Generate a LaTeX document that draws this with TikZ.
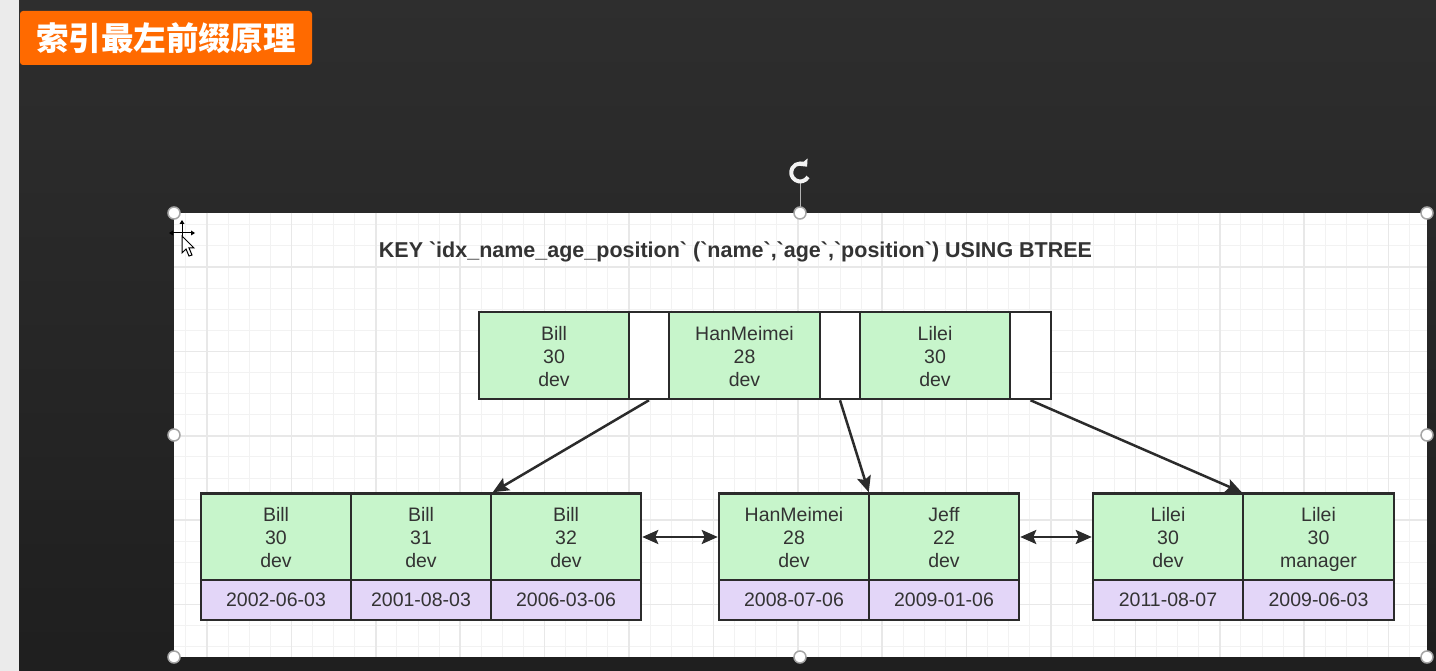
\documentclass[tikz,border=0pt]{standalone}
\usepackage{fontspec}
\setmainfont{Liberation Sans}
\newfontfamily\cjk{Noto Sans CJK SC}
\usetikzlibrary{arrows.meta,calc}
\definecolor{cellgreen}{HTML}{C7F5CB}
\definecolor{cellpurple}{HTML}{E3D6F8}
\definecolor{ink}{HTML}{333333}
\definecolor{edgec}{HTML}{2B2B2B}
\definecolor{tagorange}{HTML}{FF6A00}
\definecolor{gridthin}{HTML}{F2F2F2}
\definecolor{gridthick}{HTML}{E8E8E8}
\newcommand{\bq}{\textasciigrave}
\newcommand{\cl}[3]{\rule{0pt}{15pt}#1\\#2\\\raisebox{0pt}[\height][0pt]{#3}}
\tikzset{
  tip/.tip={Stealth[length=16pt,width=14pt,inset=3pt]},
  cell/.style={draw=edgec, line width=2.5pt, fill=cellgreen, text=ink, align=center,
    font=\fontsize{19.5}{23}\selectfont, inner sep=0pt, minimum height=87pt},
  gapcell/.style={draw=edgec, line width=2.5pt, fill=white, inner sep=0pt, minimum height=87pt, minimum width=40pt},
  datecell/.style={draw=edgec, line width=2.5pt, fill=cellpurple, text=ink,
    font=\fontsize{19.5}{23}\selectfont, inner sep=0pt, minimum height=40pt},
  conn/.style={draw=edgec, line width=2.5pt, -tip},
  dbl/.style={draw=edgec, line width=2.5pt, tip-tip},
  handle/.style={circle, draw=gray!70, fill=white, line width=1.5pt, inner sep=0pt, minimum size=12pt},
}
\begin{document}
\begin{tikzpicture}[x=1pt,y=-1pt]
\useasboundingbox (0,0) rectangle (1436,671);
% background
\shade[top color=black!82, bottom color=black!88] (0,0) rectangle (1436,671);
\fill[black!8] (0,0) rectangle (19,671);
% title tag
\node[fill=tagorange, rounded corners=3pt, minimum width=292pt, minimum height=54pt, inner sep=0pt,
  text=white, font=\cjk\bfseries\fontsize{32.5}{36}\selectfont] (tag) at (166,38) {索引最左前缀原理};
% canvas
\fill[white] (174,213) rectangle (1427,657);
\begin{scope}
\clip (174,213) rectangle (1427,657);
\foreach \i in {0,...,59} {\draw[gridthin, line width=1pt] (185.9+21.1*\i,213) -- (185.9+21.1*\i,657);}
\foreach \j in {0,...,22} {\draw[gridthin, line width=1pt] (174,203.7+21.1*\j) -- (1427,203.7+21.1*\j);}
\foreach \i in {0,...,14} {\draw[gridthick, line width=1.5pt] (207+84.4*\i,213) -- (207+84.4*\i,657);}
\foreach \j in {0,...,5} {\draw[gridthick, line width=1.5pt] (174,267+84.4*\j) -- (1427,267+84.4*\j);}
\end{scope}
% rotation handle
\coordinate (rotc) at (800,172);
\draw[gray!60, line width=1pt] (800,183) -- (800,207);
\draw[gray!10, line width=4pt, -{Triangle[length=6pt,width=11pt]}] (808,177) arc[start angle=30, end angle=320, radius=9];
% selection handles
\foreach \p in {(174,213),(800,213),(1427,213),(174,435),(1427,435),(174,657),(800,657),(1427,657)}
  {\node[handle] at \p {};}
% cursor
\draw[black, line width=1pt] (172,233) -- (192,233) (182,223) -- (182,243);
\fill[black] (169,233) -- (173,230.5) -- (173,235.5) -- cycle;
\fill[black] (195,233) -- (191,230.5) -- (191,235.5) -- cycle;
\fill[black] (182,220) -- (179.5,224) -- (184.5,224) -- cycle;
\draw[black, fill=white, line width=1pt] (182,236) -- (182,253) -- (186,249) -- (189,256) -- (192,255) -- (189,248) -- (194,248) -- cycle;
% title
\node[text=ink, font=\bfseries\fontsize{21.5}{24}\selectfont] (title) at (735.5,252)
  {KEY \bq idx\_name\_age\_position\bq{} (\bq name\bq,\bq age\bq,\bq position\bq) USING BTREE};
% top node
\node[cell, minimum width=150pt] (t1) at (554,355.5) {\cl{Bill}{30}{dev}};
\node[gapcell] (p1) at (649,355.5) {};
\node[cell, minimum width=151pt] (t2) at (744.5,355.5) {\cl{HanMeimei}{28}{dev}};
\node[gapcell] (p2) at (840,355.5) {};
\node[cell, minimum width=150pt] (t3) at (935,355.5) {\cl{Lilei}{30}{dev}};
\node[gapcell, minimum width=41pt] (p3) at (1030.5,355.5) {};
% bottom left
\node[cell, minimum width=150pt] (b1) at (276,537) {\cl{Bill}{30}{dev}};
\node[cell, minimum width=140pt] (b2) at (421,537) {\cl{Bill}{31}{dev}};
\node[cell, minimum width=150pt] (b3) at (566,537) {\cl{Bill}{32}{dev}};
\node[datecell, minimum width=150pt] (d1) at (276,600) {2002-06-03};
\node[datecell, minimum width=140pt] (d2) at (421,600) {2001-08-03};
\node[datecell, minimum width=150pt] (d3) at (566,600) {2006-03-06};
% bottom middle
\node[cell, minimum width=150pt] (m1) at (794,537) {\cl{HanMeimei}{28}{dev}};
\node[cell, minimum width=150pt] (m2) at (944,537) {\cl{Jeff}{22}{dev}};
\node[datecell, minimum width=150pt] (d4) at (794,600) {2008-07-06};
\node[datecell, minimum width=150pt] (d5) at (944,600) {2009-01-06};
% bottom right
\node[cell, minimum width=150pt] (r1) at (1168,537) {\cl{Lilei}{30}{dev}};
\node[cell, minimum width=151pt] (r2) at (1318.5,537) {\cl{Lilei}{30}{manager}};
\node[datecell, minimum width=150pt] (d6) at (1168,600) {2011-08-07};
\node[datecell, minimum width=151pt] (d7) at (1318.5,600) {2009-06-03};
% connectors
\draw[conn] (p1.south) -- ($(b3.north west)+(3,0)$);
\draw[conn] (p2.south) -- ($(m2.north west)+(1,0)$);
\draw[conn] (p3.south) -- (r2.north west);
\draw[dbl] (b3.east) -- (m1.west);
\draw[dbl] (m2.east) -- (r1.west);
\end{tikzpicture}
\end{document}
